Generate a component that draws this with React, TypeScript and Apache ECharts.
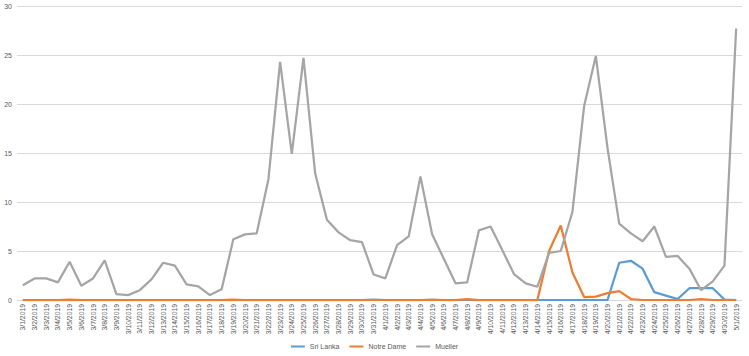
import React, { useEffect, useRef } from "react";
import * as echarts from "echarts";

const dates = [
  "3/1/2019","3/2/2019","3/3/2019","3/4/2019","3/5/2019","3/6/2019","3/7/2019","3/8/2019","3/9/2019","3/10/2019",
  "3/11/2019","3/12/2019","3/13/2019","3/14/2019","3/15/2019","3/16/2019","3/17/2019","3/18/2019","3/19/2019","3/20/2019",
  "3/21/2019","3/22/2019","3/23/2019","3/24/2019","3/25/2019","3/26/2019","3/27/2019","3/28/2019","3/29/2019","3/30/2019",
  "3/31/2019","4/1/2019","4/2/2019","4/3/2019","4/4/2019","4/5/2019","4/6/2019","4/7/2019","4/8/2019","4/9/2019",
  "4/10/2019","4/11/2019","4/12/2019","4/13/2019","4/14/2019","4/15/2019","4/16/2019","4/17/2019","4/18/2019","4/19/2019",
  "4/20/2019","4/21/2019","4/22/2019","4/23/2019","4/24/2019","4/25/2019","4/26/2019","4/27/2019","4/28/2019","4/29/2019",
  "4/30/2019","5/1/2019"
];

const sriLanka = [
  0,0,0,0,0,0,0,0,0,0,
  0,0,0,0,0,0,0,0,0,0,
  0,0,0,0,0,0,0,0,0,0,
  0.05,0,0,0,0,0,0,0,0,0,
  0,0,0,0,0,0,0,0,0,0,
  0,3.8,4.0,3.2,0.8,0.45,0.1,1.2,1.2,1.2,
  0.05,0
];

const notreDame = [
  0,0,0,0,0.05,0,0,0,0,0,
  0,0,0,0,0,0,0,0,0.05,0,
  0,0,0,0,0,0,0,0,0,0,
  0,0,0,0,0,0.05,0,0,0.1,0,
  0,0,0,0,0,5.0,7.6,2.8,0.3,0.35,
  0.7,0.9,0.1,0,0,0,0,0,0.1,0,
  0,0
];

const mueller = [
  1.5,2.2,2.2,1.8,3.9,1.45,2.2,4.05,0.6,0.5,
  1.0,2.1,3.8,3.5,1.6,1.4,0.5,1.1,6.2,6.7,
  6.8,12.3,24.3,14.9,24.7,12.9,8.2,6.9,6.1,5.9,
  2.6,2.2,5.6,6.5,12.6,6.7,4.2,1.7,1.8,7.1,
  7.5,5.1,2.65,1.7,1.35,4.8,5.0,9.0,19.8,24.9,
  15.5,7.8,6.8,6.0,7.5,4.4,4.5,3.2,1.0,1.9,
  3.5,27.7
];

const yTicks = [0, 5, 10, 15, 20, 25, 30];

export default function App() {
  const ref = useRef<HTMLDivElement>(null);
  useEffect(() => {
    if (!ref.current) return;
    const chart = echarts.init(ref.current, null, { renderer: "svg" });
    const font = "Liberation Sans";
    const mk = (name: string, data: number[], color: string) => ({
      name,
      type: "line",
      data,
      symbol: "none",
      lineStyle: { color, width: 2.25 },
      itemStyle: { color },
    });
    chart.setOption({
      animation: false,
      backgroundColor: "#ffffff",
      grid: { left: 17, right: 7, top: 6, bottom: 56, containLabel: false },
      legend: {
        bottom: 1,
        left: "center",
        itemWidth: 14,
        itemHeight: 2,
        itemGap: 10,
        icon: "rect",
        textStyle: { fontSize: 7, color: "#595959", fontFamily: font },
        data: ["Sri Lanka", "Notre Dame", "Mueller"],
      },
      xAxis: {
        type: "category",
        data: dates,
        boundaryGap: true,
        axisLine: { show: true, lineStyle: { color: "#d9d9d9" } },
        axisTick: { show: false },
        axisLabel: {
          rotate: 90,
          interval: 0,
          fontSize: 6.8,
          color: "#595959",
          fontFamily: font,
          margin: 4,
        },
      },
      yAxis: {
        type: "value",
        min: yTicks[0],
        max: yTicks[yTicks.length - 1],
        interval: 5,
        axisLine: { show: false },
        axisTick: { show: false },
        splitLine: { lineStyle: { color: "#d9d9d9", width: 1 } },
        axisLabel: { fontSize: 7, color: "#595959", fontFamily: font, margin: 5 },
      },
      series: [
        mk("Sri Lanka", sriLanka, "#5B9BD5"),
        mk("Notre Dame", notreDame, "#ED7D31"),
        mk("Mueller", mueller, "#A5A5A5"),
      ],
    });
    return () => chart.dispose();
  }, []);
  return <div ref={ref} style={{ width: 749, height: 356, position: "absolute", left: 0, top: 0 }} />;
}
